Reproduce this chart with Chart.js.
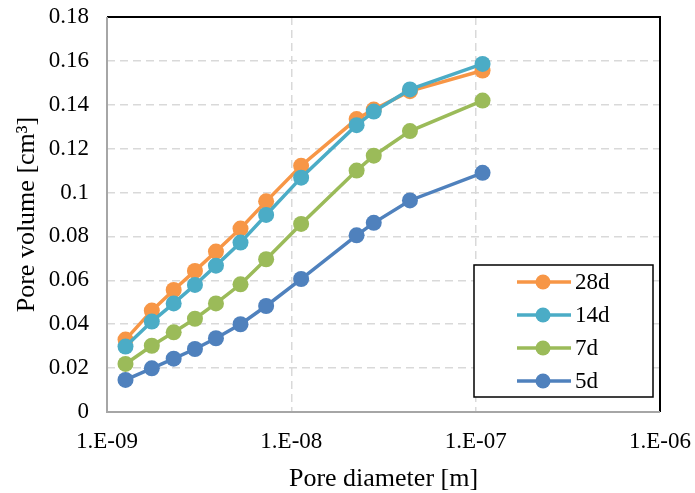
<!DOCTYPE html>
<html>
<head>
<meta charset="utf-8">
<script src="https://cdn.jsdelivr.net/npm/chart.js@4.4.1/dist/chart.umd.min.js"></script>
<style>
  html, body { margin: 0; padding: 0; background: #fff; }
  #wrap { width: 695px; height: 493px; }
</style>
</head>
<body>
<div id="wrap"><canvas id="poreChart" width="695" height="493"></canvas></div>
<script>
// Pore diameter [m] (shared by all series)
const diameters = [1.26e-9, 1.75e-9, 2.3e-9, 3.0e-9, 3.9e-9, 5.3e-9, 7.3e-9, 1.13e-8, 2.26e-8, 2.8e-8, 4.4e-8, 1.09e-7];

// Pore volume [cm3] per curing age
const vol5d  = [0.0146, 0.0199, 0.0243, 0.0287, 0.0336, 0.0400, 0.0483, 0.0606, 0.0805, 0.0862, 0.0964, 0.1090];
const vol7d  = [0.0219, 0.0302, 0.0363, 0.0425, 0.0495, 0.0582, 0.0696, 0.0857, 0.1100, 0.1168, 0.1280, 0.1419];
const vol14d = [0.0298, 0.0412, 0.0495, 0.0579, 0.0667, 0.0772, 0.0898, 0.1068, 0.1307, 0.1369, 0.1470, 0.1586];
const vol28d = [0.0330, 0.0462, 0.0556, 0.0643, 0.0731, 0.0836, 0.0960, 0.1122, 0.1335, 0.1378, 0.1462, 0.1556];

const seriesNames = ['5d', '7d', '14d', '28d'];
const seriesColors = ['#4F81BD', '#9BBB59', '#4BACC6', '#F79646'];

const xTickValues = [1e-9, 1e-8, 1e-7, 1e-6];
const xTickLabels = ['1.E-09', '1.E-08', '1.E-07', '1.E-06'];
const yTicks = [0, 0.02, 0.04, 0.06, 0.08, 0.1, 0.12, 0.14, 0.16, 0.18];

const FONT = '"Liberation Serif", "Times New Roman", serif';

function toPoints(ys) {
    return diameters.map((d, i) => ({ x: d, y: ys[i] }));
}

// Cadre noir haut/droite + légende encadrée dans la zone de tracé
const frameAndLegend = {
    id: 'frameAndLegend',
    afterDatasetsDraw(chart) {
        const { ctx, chartArea: a } = chart;
        ctx.save();
        ctx.strokeStyle = '#000';
        ctx.lineWidth = 2;
        ctx.beginPath();
        ctx.moveTo(a.left, a.top);
        ctx.lineTo(a.right, a.top);
        ctx.lineTo(a.right, a.bottom);
        ctx.stroke();
        ctx.strokeStyle = '#a6a6a6';
        ctx.lineWidth = 2;
        ctx.beginPath();
        ctx.moveTo(a.left, a.top);
        ctx.lineTo(a.left, a.bottom);
        ctx.lineTo(a.right, a.bottom);
        ctx.stroke();

        // légende (ordre inverse des séries : 28d en haut)
        const boxW = 179, boxH = 132;
        const bx = a.right - 7 - boxW;
        const by = a.bottom - 15 - boxH;
        ctx.fillStyle = '#fff';
        ctx.fillRect(bx, by, boxW, boxH);
        ctx.strokeStyle = '#000';
        ctx.lineWidth = 1.5;
        ctx.strokeRect(bx, by, boxW, boxH);

        const sets = chart.data.datasets.slice().reverse();
        ctx.font = '23px ' + FONT;
        ctx.textBaseline = 'middle';
        ctx.textAlign = 'left';
        sets.forEach((ds, i) => {
            const cy = by + 17 + i * 33;
            ctx.strokeStyle = ds.borderColor;
            ctx.lineWidth = 3.5;
            ctx.beginPath();
            ctx.moveTo(bx + 43, cy);
            ctx.lineTo(bx + 97, cy);
            ctx.stroke();
            ctx.fillStyle = ds.backgroundColor;
            ctx.beginPath();
            ctx.arc(bx + 69, cy, 7.5, 0, Math.PI * 2);
            ctx.fill();
            ctx.fillStyle = '#000';
            ctx.fillText(ds.label, bx + 101, cy + 1);
        });
        ctx.restore();
    }
};

const datasets = [vol5d, vol7d, vol14d, vol28d].map((ys, i) => ({
    label: seriesNames[i],
    data: toPoints(ys),
    borderColor: seriesColors[i],
    backgroundColor: seriesColors[i],
    borderWidth: 3.5,
    pointRadius: 8,
    pointHoverRadius: 8,
    pointBorderWidth: 0,
    tension: 0
}));

new Chart(document.getElementById('poreChart').getContext('2d'), {
    type: 'line',
    data: { datasets: datasets },
    plugins: [frameAndLegend],
    options: {
        responsive: false,
        animation: false,
        layout: { padding: { left: 0, right: 35, top: 17, bottom: 0 } },
        plugins: {
            legend: { display: false },
            tooltip: { enabled: false }
        },
        scales: {
            x: {
                type: 'logarithmic',
                min: 1e-9,
                max: 1e-6,
                afterBuildTicks: (scale) => {
                    scale.ticks = xTickValues.map(v => ({ value: v }));
                },
                afterFit: (scale) => {
                    scale.height = 81;
                    scale.paddingLeft = 0;
                    scale.paddingRight = 0;
                },
                ticks: {
                    color: '#000',
                    font: { family: FONT, size: 23 },
                    padding: 16,
                    maxRotation: 0,
                    autoSkip: false,
                    callback: (v) => {
                        const k = xTickValues.findIndex(t => Math.abs(Math.log10(t) - Math.log10(v)) < 1e-6);
                        return k >= 0 ? xTickLabels[k] : '';
                    }
                },
                grid: { color: '#d9d9d9', lineWidth: 1.5, drawTicks: false },
                border: { display: false, dash: [8, 5] },
                title: {
                    display: true,
                    text: 'Pore diameter [m]',
                    color: '#000',
                    font: { family: FONT, size: 26 },
                    padding: { top: 0, bottom: -2 }
                }
            },
            y: {
                min: 0,
                max: 0.18,
                afterBuildTicks: (scale) => {
                    scale.ticks = yTicks.map(v => ({ value: v }));
                },
                afterFit: (scale) => {
                    scale.width = 107;
                    scale.paddingTop = 0;
                    scale.paddingBottom = 0;
                },
                ticks: {
                    color: '#000',
                    font: { family: FONT, size: 23 },
                    padding: 18,
                    callback: (v) => String(+v.toFixed(2))
                },
                grid: { color: '#d9d9d9', lineWidth: 1.5, drawTicks: false },
                border: { display: false, dash: [8, 5] },
                title: {
                    display: true,
                    text: 'Pore volume [cm³]',
                    color: '#000',
                    font: { family: FONT, size: 26 },
                    padding: { top: 12, bottom: 12 }
                }
            }
        }
    }
});
</script>
</body>
</html>
